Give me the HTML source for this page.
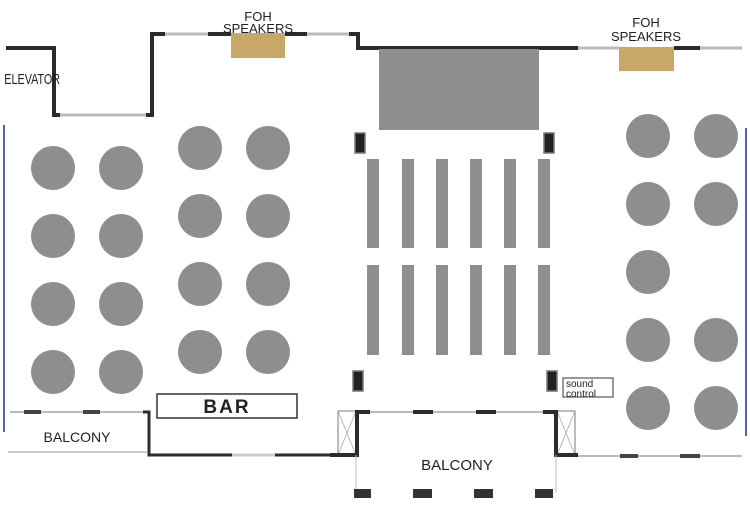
<!DOCTYPE html>
<html><head><style>body{margin:0;background:#fff}svg{display:block}text{font-family:"Liberation Sans",sans-serif}</style></head>
<body>
<svg width="750" height="510" viewBox="0 0 750 510" xmlns="http://www.w3.org/2000/svg">
<rect width="750" height="510" fill="#fff"/>
<g fill="none" stroke="#2e2a2b" stroke-width="4">
<polyline points="6,48 54,48 54,115 60,115"/>
<polyline points="146,115 152,115 152,34 165,34"/>
<line x1="208" y1="34" x2="231" y2="34"/>
<line x1="285" y1="34" x2="307" y2="34"/>
<polyline points="349,34 358,34 358,48 578,48"/>
<line x1="674" y1="48" x2="700" y2="48"/>
</g>
<g stroke="#bbb" stroke-width="3">
<line x1="60" y1="115" x2="146" y2="115"/>
<line x1="165" y1="34" x2="208" y2="34"/>
<line x1="307" y1="34" x2="349" y2="34"/>
<line x1="578" y1="48" x2="619" y2="48"/>
<line x1="700" y1="48" x2="742" y2="48"/>
</g>
<rect x="231" y="33" width="54" height="25" fill="#c8a869"/>
<rect x="619" y="47" width="55" height="24" fill="#c8a869"/>
<text x="258" y="21" font-size="13" text-anchor="middle" fill="#222">FOH</text>
<text x="258" y="33" font-size="13" text-anchor="middle" fill="#222">SPEAKERS</text>
<text x="646" y="27" font-size="13" text-anchor="middle" fill="#222">FOH</text>
<text x="646" y="41" font-size="13" text-anchor="middle" fill="#222">SPEAKERS</text>
<text x="6" y="84" font-size="15" fill="#222" transform="scale(0.72,1)">ELEVATOR</text>
<rect x="379" y="49" width="160" height="81" fill="#8e8e8e"/>
<g fill="#222" stroke="#777" stroke-width="1.5">
<rect x="355" y="133" width="10" height="20"/>
<rect x="544" y="133" width="10" height="20"/>
<rect x="353" y="371" width="10" height="20"/>
<rect x="547" y="371" width="10" height="20"/>
</g>
<g fill="#8e8e8e">
<rect x="367" y="159" width="12" height="89"/><rect x="402" y="159" width="12" height="89"/><rect x="436" y="159" width="12" height="89"/><rect x="470" y="159" width="12" height="89"/><rect x="504" y="159" width="12" height="89"/><rect x="538" y="159" width="12" height="89"/>
<rect x="367" y="265" width="12" height="90"/><rect x="402" y="265" width="12" height="90"/><rect x="436" y="265" width="12" height="90"/><rect x="470" y="265" width="12" height="90"/><rect x="504" y="265" width="12" height="90"/><rect x="538" y="265" width="12" height="90"/>
</g>
<g fill="#8e8e8e">
<circle cx="53" cy="168" r="22"/><circle cx="121" cy="168" r="22"/>
<circle cx="53" cy="236" r="22"/><circle cx="121" cy="236" r="22"/>
<circle cx="53" cy="304" r="22"/><circle cx="121" cy="304" r="22"/>
<circle cx="53" cy="372" r="22"/><circle cx="121" cy="372" r="22"/>
<circle cx="200" cy="148" r="22"/><circle cx="268" cy="148" r="22"/>
<circle cx="200" cy="216" r="22"/><circle cx="268" cy="216" r="22"/>
<circle cx="200" cy="284" r="22"/><circle cx="268" cy="284" r="22"/>
<circle cx="200" cy="352" r="22"/><circle cx="268" cy="352" r="22"/>
<circle cx="648" cy="136" r="22"/><circle cx="716" cy="136" r="22"/>
<circle cx="648" cy="204" r="22"/><circle cx="716" cy="204" r="22"/>
<circle cx="648" cy="272" r="22"/>
<circle cx="648" cy="340" r="22"/><circle cx="716" cy="340" r="22"/>
<circle cx="648" cy="408" r="22"/><circle cx="716" cy="408" r="22"/>
</g>
<line x1="4" y1="125" x2="4" y2="432" stroke="#1a2f8a" stroke-width="1.5"/>
<line x1="746" y1="128" x2="746" y2="436" stroke="#1a2f8a" stroke-width="1.5"/>
<line x1="10" y1="412" x2="145" y2="412" stroke="#bbb" stroke-width="2"/>
<rect x="24" y="410" width="17" height="4" fill="#444"/>
<rect x="83" y="410" width="17" height="4" fill="#444"/>
<polyline points="143,412 149,412 149,455 340,455" fill="none" stroke="#2e2a2b" stroke-width="3"/>
<line x1="232" y1="455" x2="275" y2="455" stroke="#ccc" stroke-width="3"/>
<line x1="8" y1="452" x2="148" y2="452" stroke="#999" stroke-width="1"/>
<text x="77" y="442" font-size="14" text-anchor="middle" fill="#222">BALCONY</text>
<rect x="157" y="394" width="140" height="24" fill="#fff" stroke="#333" stroke-width="1.5"/>
<text x="227" y="413" font-size="19" font-weight="bold" text-anchor="middle" fill="#222" style="letter-spacing:2px">BAR</text>
<rect x="338" y="411" width="18" height="44" fill="#fff" stroke="#777" stroke-width="1"/>
<path d="M338 411 L356 455 M356 411 L338 455" stroke="#aaa" stroke-width="0.8"/>
<rect x="557" y="411" width="18" height="44" fill="#fff" stroke="#777" stroke-width="1"/>
<path d="M557 411 L575 455 M575 411 L557 455" stroke="#aaa" stroke-width="0.8"/>
<line x1="356" y1="412" x2="557" y2="412" stroke="#bbb" stroke-width="2"/>
<g stroke="#2e2a2b" stroke-width="4" fill="none">
<polyline points="330,455 357,455 357,412 370,412"/>
<polyline points="543,412 556,412 556,455 578,455"/>
<line x1="413" y1="412" x2="433" y2="412"/>
<line x1="476" y1="412" x2="496" y2="412"/>
</g>
<line x1="356" y1="455" x2="356" y2="493" stroke="#bbb" stroke-width="1"/>
<line x1="556" y1="455" x2="556" y2="493" stroke="#bbb" stroke-width="1"/>
<g fill="#333">
<rect x="354" y="489" width="17" height="9"/><rect x="413" y="489" width="19" height="9"/>
<rect x="474" y="489" width="19" height="9"/><rect x="535" y="489" width="18" height="9"/>
</g>
<text x="457" y="470" font-size="15" text-anchor="middle" fill="#222">BALCONY</text>
<line x1="578" y1="456" x2="742" y2="456" stroke="#bbb" stroke-width="2"/>
<rect x="620" y="454" width="18" height="4" fill="#444"/>
<rect x="680" y="454" width="20" height="4" fill="#444"/>
<rect x="563" y="378" width="50" height="19" fill="#fff" stroke="#333" stroke-width="1"/>
<text x="566" y="387" font-size="10" fill="#222">sound</text>
<text x="566" y="397" font-size="10" fill="#222">control</text>
</svg>
</body></html>
